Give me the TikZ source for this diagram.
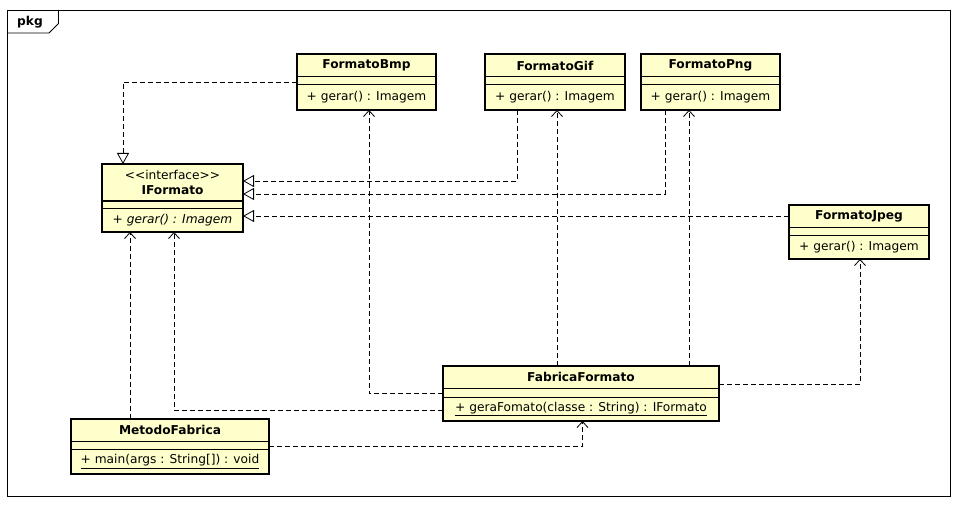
\documentclass[tikz,border=0pt]{standalone}
\usepackage{fontspec}
\setmainfont{DejaVu Sans}
\usetikzlibrary{arrows.meta,calc}
\definecolor{clsfill}{HTML}{FFFFCC}
\newcommand{\umlbox}[9]{%
  \node[cls, minimum width={#4-#2}, minimum height={#5-#3}] (#1) at (#2,#3) {};
  \draw[sepl] (#2,#6) -- (#4,#6);
  \draw[sepl] (#2,#7) -- (#4,#7);
  \node[txt] at ({(#2+#4)/2},{(#3+#6)/2}) {#8};
  \node[txt] at ({(#2+#4)/2},{(#7+#5)/2}) {#9};
}
\begin{document}
\begin{tikzpicture}[x=1pt,y=-1pt,
  cls/.style={draw, line width=2pt, fill=clsfill, inner sep=0pt, outer sep=0pt, anchor=north west},
  sepl/.style={line width=1pt},
  txt/.style={inner sep=0pt, font=\fontsize{12.2}{15}\selectfont, align=center},
  conn/.style={line width=0.8pt, dash pattern=on 5pt off 3pt},
  real/.style={conn, -{Triangle[open,length=11pt,width=12pt,line width=0.8pt]}},
  dep/.style={conn, -{Straight Barb[length=6pt,width=11pt,line width=0.8pt]}}
]
\useasboundingbox (0,0) rectangle (959,508);
% package frame
\draw[line width=0.8pt] (7,10) rectangle (950,496);
\draw[line width=0.8pt] (7,33) -- (49,33) -- (58.5,23.5) -- (58.5,10);
\node[txt, font=\fontsize{12.2}{14}\selectfont\bfseries] (pkg) at (30,22) {pkg};

% classes
\umlbox{bmp}{297}{54}{436}{110}{77}{85}{\textbf{FormatoBmp}}{+ gerar() : Imagem}
\umlbox{gif}{485}{54}{625}{110}{77}{85}{\textbf{FormatoGif}}{+ gerar() : Imagem}
\umlbox{png}{641}{54}{780}{110}{77}{85}{\textbf{FormatoPng}}{+ gerar() : Imagem}
\umlbox{ifm}{102}{164}{243}{232}{201}{208}{<{}<interface>{}>\\\textbf{IFormato}}{\itshape + gerar() : Imagem}
\umlbox{jpeg}{789}{205}{929}{259}{227}{235}{\textbf{FormatoJpeg}}{+ gerar() : Imagem}
\umlbox{fab}{443}{366}{719}{421}{388}{397}{\textbf{FabricaFormato}}{\underline{+ geraFomato(classe : String) : IFormato}}
\umlbox{met}{71}{419}{269}{474}{441}{449}{\textbf{MetodoFabrica}}{\underline{+ main(args : String[]) : void}}

% realizations
\draw[real] (bmp.west) -| ([xshift=21pt]ifm.north west);
\draw[real] ([xshift=-38pt]gif.south) |- ([yshift=17pt]ifm.east);
\draw[real] ([xshift=-45.5pt]png.south) |- ([yshift=4pt]ifm.east);
\coordinate (jl) at ([yshift=16pt]jpeg.west);
\draw[real] (jl) -- (jl -| ifm.east);

% dependencies
\coordinate (m1) at ([xshift=-40pt]met.north);
\draw[dep] (m1) -- (m1 |- ifm.south);
\coordinate (f1) at ([yshift=-16.5pt]fab.west);
\draw[dep] (f1) -| ([xshift=72pt]ifm.south west);
\draw[dep] (fab.west) -| ([xshift=2.5pt]bmp.south);
\coordinate (f2) at ([xshift=-24pt]fab.north);
\draw[dep] (f2) -- (f2 |- gif.south);
\coordinate (f3) at ([xshift=108pt]fab.north);
\draw[dep] (f3) -- (f3 |- png.south);
\coordinate (f4) at ([yshift=9.5pt]fab.east);
\draw[dep] (f4) -| ([xshift=1pt]jpeg.south);
\draw[dep] (met.east) -| ([xshift=1.5pt]fab.south);
\end{tikzpicture}
\end{document}
